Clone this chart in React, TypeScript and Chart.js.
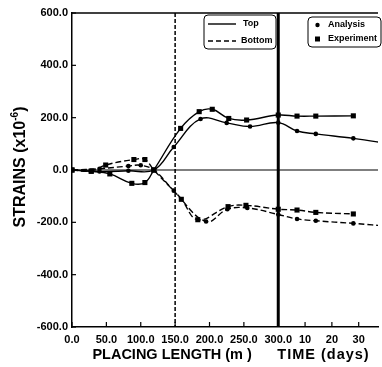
import React, { useEffect, useRef } from 'react';
import { Chart, registerables } from 'chart.js';

Chart.register(...registerables);

// x-axis: placing length in metres up to 300, then time in days (1 day = DAY units)
const LENGTH_END = 300;
const DAY = 3.9;
const X_MAX = LENGTH_END + 37.2 * DAY;

const placingTicks = [0, 50, 100, 150, 200, 250, 300];
const dayTicks = [10, 20, 30];
const yTicksMin = -600;
const yTicksMax = 600;
const yStep = 200;

// Top – Analysis (solid, circles)
const topAnaLen = [0, 40, 82, 119, 148, 187, 225, 259, 300];
const topAnaLenVal = [0, -6, -3, 0, 88, 195, 180, 166, 181];
const topAnaDays = [7, 14, 28, 42];
const topAnaDayVal = [149, 138, 121, 99];

// Top – Experiment (solid, squares)
const topExpLen = [0, 28, 55, 87, 106, 119, 158, 185, 204, 228, 254, 300];
const topExpLenVal = [0, -5, -15, -51, -48, 0, 159, 223, 232, 197, 191, 210];
const topExpDays = [7, 14, 28];
const topExpDayVal = [206, 206, 207];

// Bottom – Analysis (dashed, circles)
const botAnaLen = [0, 40, 82, 100, 119, 148, 195, 226, 255, 300];
const botAnaLenVal = [0, 5, 15, 18, 0, -79, -197, -150, -145, -170];
const botAnaDays = [7, 14, 28, 42];
const botAnaDayVal = [-187, -194, -204, -216];

// Bottom – Experiment (dashed, squares)
const botExpLen = [0, 28, 49, 90, 106, 119, 159, 183, 227, 253, 300];
const botExpLenVal = [0, -4, 19, 40, 40, 0, -112, -190, -140, -135, -150];
const botExpDays = [7, 14, 28];
const botExpDayVal = [-153, -162, -168];

const FONT = '"Liberation Sans", Arial, Helvetica, sans-serif';

function pts(len: number[], lenVal: number[], days: number[], dayVal: number[]) {
  return [
    ...len.map((x, i) => ({ x, y: lenVal[i] })),
    ...days.map((d, i) => ({ x: LENGTH_END + d * DAY, y: dayVal[i] })),
  ];
}

const xTickValues = [...placingTicks, ...dayTicks.map((d) => LENGTH_END + d * DAY)];
const xTickLabels = [...placingTicks.map((v) => v.toFixed(1)), ...dayTicks.map((d) => String(d))];

const overlay = {
  id: 'overlay',
  beforeDatasetsDraw(chart: any) {
    const { ctx, chartArea: a, scales } = chart;
    const x = scales.x;
    const y = scales.y;
    const ln = (x1: number, y1: number, x2: number, y2: number) => {
      ctx.beginPath();
      ctx.moveTo(x1, y1);
      ctx.lineTo(x2, y2);
      ctx.stroke();
    };
    ctx.save();
    ctx.strokeStyle = '#000';
    ctx.lineWidth = 1.5;
    ln(a.left, a.top, a.right, a.top);
    // zero line
    ctx.lineWidth = 1.2;
    const y0 = y.getPixelForValue(0);
    ln(a.left, y0, a.right, y0);
    // inside ticks
    ctx.lineWidth = 1.2;
    y.ticks.forEach((t: any) => {
      const py = y.getPixelForValue(t.value);
      ln(a.left, py, a.left + 4, py);
    });
    x.ticks.forEach((t: any) => {
      const px = x.getPixelForValue(t.value);
      ln(px, a.bottom, px, a.bottom - 5);
    });
    // dashed line at 150 m
    ctx.setLineDash([4, 2]);
    ctx.lineWidth = 1.5;
    const x150 = x.getPixelForValue(150);
    ln(x150, a.top, x150, a.bottom);
    // thick line at 300 m
    ctx.setLineDash([]);
    ctx.lineWidth = 3;
    const x300 = x.getPixelForValue(LENGTH_END);
    ln(x300, a.top, x300, a.bottom);
    ctx.restore();
  },
  afterDraw(chart: any) {
    const { ctx, scales } = chart;
    const x = scales.x;
    ctx.save();
    ctx.fillStyle = '#000';
    ctx.strokeStyle = '#000';

    // axis titles
    ctx.font = `bold 14.5px ${FONT}`;
    ctx.textAlign = 'center';
    ctx.textBaseline = 'middle';
    ctx.fillText('PLACING LENGTH (m )', x.getPixelForValue(150) - 3, 355);
    (ctx as any).letterSpacing = '1px';
    ctx.fillText('TIME (days)', x.getPixelForValue(LENGTH_END + 15 * DAY) + 5, 355);
    (ctx as any).letterSpacing = '0px';

    // y title with superscript
    ctx.save();
    ctx.translate(21, 167);
    ctx.rotate(-Math.PI / 2);
    const main = 'STRAINS (x10';
    const sup = '-6';
    const close = ')';
    const mainFont = `bold 16px ${FONT}`;
    const supFont = `bold 10px ${FONT}`;
    ctx.font = mainFont;
    const wMain = ctx.measureText(main).width;
    const wClose = ctx.measureText(close).width;
    ctx.font = supFont;
    const wSup = ctx.measureText(sup).width;
    let cx = -(wMain + wSup + wClose) / 2;
    ctx.textAlign = 'left';
    ctx.font = mainFont;
    ctx.fillText(main, cx, 0);
    cx += wMain;
    ctx.font = supFont;
    ctx.fillText(sup, cx, -6);
    cx += wSup;
    ctx.font = mainFont;
    ctx.fillText(close, cx, 0);
    ctx.restore();

    // legend box 1 (line styles)
    ctx.lineWidth = 1;
    ctx.setLineDash([]);
    ctx.beginPath();
    (ctx as any).roundRect(204, 15, 72, 34, 4);
    ctx.stroke();
    ctx.lineWidth = 1.4;
    ctx.beginPath();
    ctx.moveTo(208, 24);
    ctx.lineTo(236, 24);
    ctx.stroke();
    ctx.setLineDash([5, 3]);
    ctx.beginPath();
    ctx.moveTo(208, 41);
    ctx.lineTo(236, 41);
    ctx.stroke();
    ctx.setLineDash([]);
    ctx.font = `bold 9px ${FONT}`;
    ctx.textAlign = 'left';
    ctx.textBaseline = 'middle';
    ctx.fillText('Top', 243, 24);
    ctx.fillText('Bottom', 241, 41);

    // legend box 2 (marker styles)
    ctx.lineWidth = 1;
    ctx.beginPath();
    (ctx as any).roundRect(308, 17, 73, 30, 4);
    ctx.stroke();
    ctx.beginPath();
    ctx.arc(317.5, 25, 2.2, 0, Math.PI * 2);
    ctx.fill();
    ctx.fillRect(315, 36.5, 5, 5);
    ctx.fillText('Analysis', 328, 25);
    ctx.fillText('Experiment', 328, 39);
    ctx.restore();
  },
};

export default function App() {
  const ref = useRef<HTMLCanvasElement | null>(null);

  useEffect(() => {
    if (!ref.current) return;
    const common = {
      borderColor: '#000',
      borderWidth: 1.4,
      pointBackgroundColor: '#000',
      pointBorderColor: '#000',
      pointBorderWidth: 0,
      tension: 0.4,
      fill: false,
    };
    const chart = new Chart(ref.current, {
      type: 'line',
      data: {
        datasets: [
          { ...common, label: 'Top Analysis', data: pts(topAnaLen, topAnaLenVal, topAnaDays, topAnaDayVal), pointStyle: 'circle', pointRadius: 2.3 },
          { ...common, label: 'Top Experiment', data: pts(topExpLen, topExpLenVal, topExpDays, topExpDayVal), pointStyle: 'rect', pointRadius: 3.6 },
          { ...common, label: 'Bottom Analysis', data: pts(botAnaLen, botAnaLenVal, botAnaDays, botAnaDayVal), pointStyle: 'circle', pointRadius: 2.3, borderDash: [6, 3] },
          { ...common, label: 'Bottom Experiment', data: pts(botExpLen, botExpLenVal, botExpDays, botExpDayVal), pointStyle: 'rect', pointRadius: 3.6, borderDash: [6, 3] },
        ],
      },
      options: {
        responsive: false,
        animation: false,
        layout: { padding: { top: 13, right: 0, left: 0, bottom: 0 } },
        plugins: { legend: { display: false }, tooltip: { enabled: false } },
        scales: {
          x: {
            type: 'linear',
            min: 0,
            max: X_MAX,
            afterBuildTicks: (s: any) => {
              s.ticks = xTickValues.map((v) => ({ value: v }));
            },
            afterFit: (s: any) => {
              s.height = 40;
            },
            ticks: {
              autoSkip: false,
              maxRotation: 0,
              padding: 6,
              color: '#000',
              font: { family: FONT, size: 11, weight: 'bold' },
              callback: (v: any) => {
                const i = xTickValues.findIndex((t) => Math.abs(t - Number(v)) < 1e-6);
                return i >= 0 ? xTickLabels[i] : '';
              },
            },
            grid: { display: false, drawTicks: false },
            border: { display: true, color: '#000', width: 1.5 },
          },
          y: {
            type: 'linear',
            min: yTicksMin,
            max: yTicksMax,
            afterFit: (s: any) => {
              s.width = 72;
            },
            ticks: {
              stepSize: yStep,
              padding: 4,
              color: '#000',
              font: { family: FONT, size: 11, weight: 'bold' },
              callback: (v: any) => Number(v).toFixed(1),
            },
            grid: { display: false, drawTicks: false },
            border: { display: true, color: '#000', width: 1.5 },
          },
        },
      },
      plugins: [overlay],
    } as any);
    return () => chart.destroy();
  }, []);

  return (
    <div style={{ position: 'absolute', left: 0, top: 0, width: 382, height: 367, background: '#fff' }}>
      <canvas ref={ref} width={382} height={367} style={{ display: 'block' }} />
    </div>
  );
}
